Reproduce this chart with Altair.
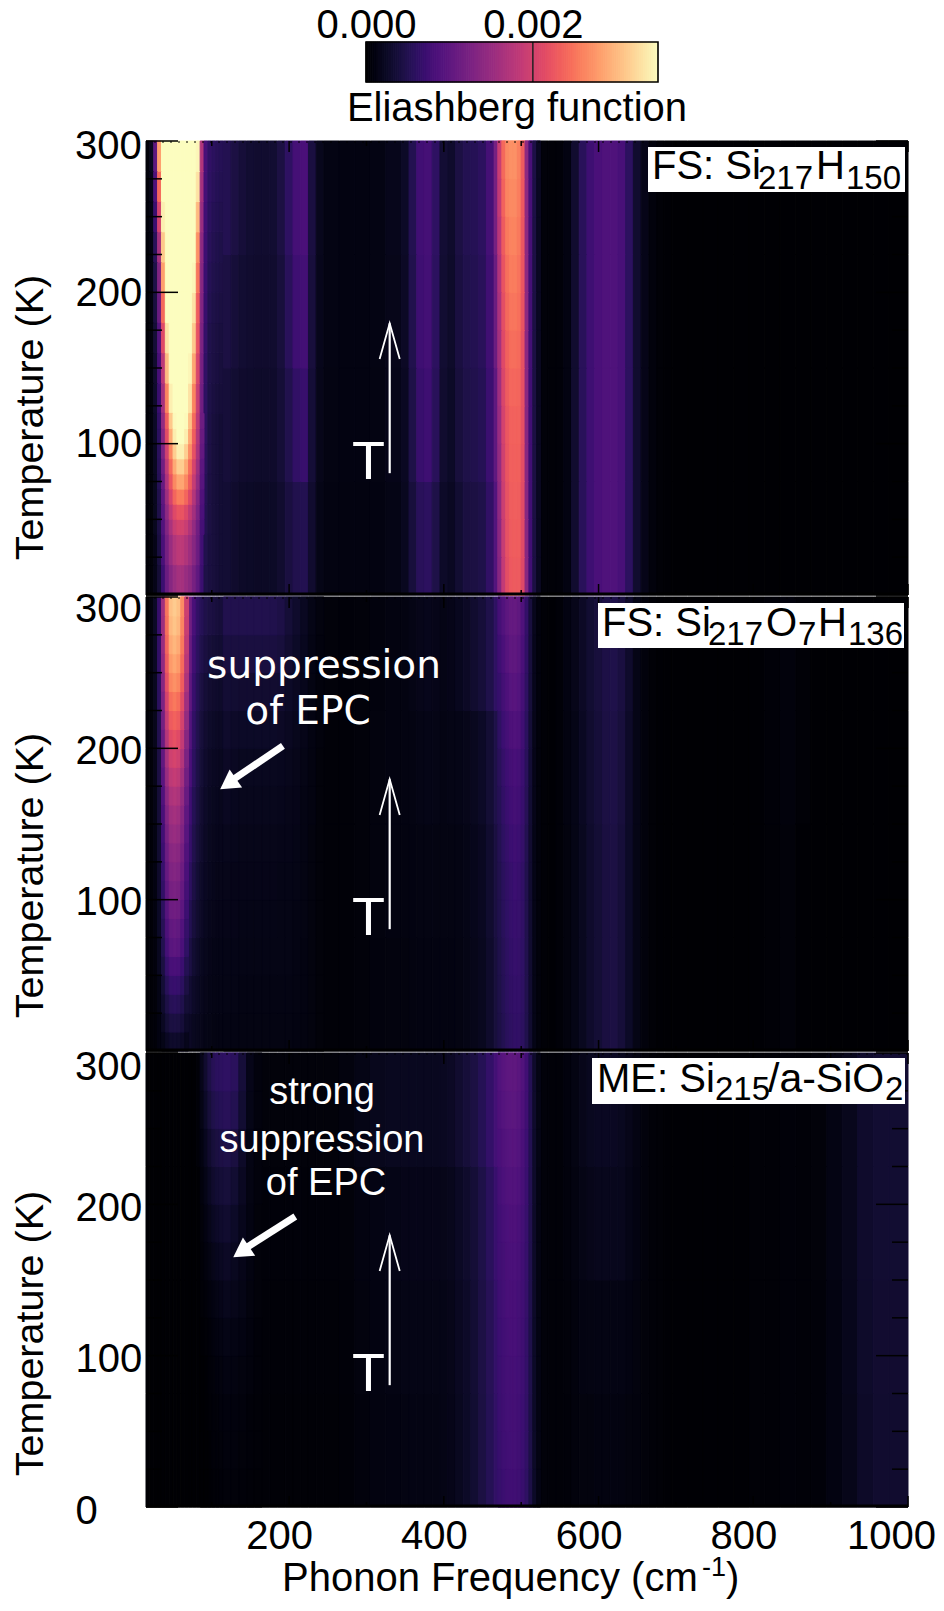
import altair as alt
import pandas as pd

# ---------- frequency / temperature cell edges ----------
low_f = [15,20,25,30,35,40,45,50,55,60,65,70,75,80,85,90,95,100,105,110,115]
hi_f = [115,125,135,145,155,165,175,185,195,205,215,225,235,245,
        265,285,305,325,345,
        355,365,375,385,395,405,415,425,435,445,455,465,
        470,475,480,485,490,495,500,505,510,515,520,525,
        535,545,555,565,575,585,595,605,615,625,635,645,655,665,675,685,695,
        715,735,755,775,795,815,835,855,875,895,915,935,955,975,1000]
hi_T = [0,75,150,225,300]
fine_T = [0,25,50,75,100,125,150,175,200,225,250,275,300]
peak_f = [470,475,480,485,490,495,500,505,510,515,520,525]

# ---------- panel 1: Si217H150 (values in units of 1e-3) ----------
p1_low_T = [0,20,40,60,80,100,120,140,160,180,200,220,240,260,280,300]
p1_low = [
 [.03,.05,.15,.35,.7,1.1,1.35,1.5,1.6,1.6,1.5,1.4,1.2,1.0,.7,.45,.4,.38,.36,.33],
 [.03,.05,.15,.4,.8,1.2,1.5,1.7,1.8,1.8,1.7,1.55,1.35,1.1,.75,.48,.4,.38,.36,.33],
 [.03,.05,.2,.45,.9,1.35,1.7,1.95,2.05,2.05,1.95,1.75,1.5,1.2,.8,.5,.42,.38,.36,.33],
 [.03,.06,.2,.5,1.0,1.6,2.1,2.5,2.7,2.7,2.5,2.2,1.8,1.4,.9,.52,.42,.38,.36,.33],
 [.03,.06,.22,.55,1.2,1.9,2.5,3.0,3.3,3.3,3.0,2.55,2.1,1.6,1.0,.55,.43,.38,.36,.33],
 [.03,.07,.25,.6,1.4,2.2,3.0,3.45,3.5,3.5,3.45,2.95,2.35,1.75,1.1,.58,.44,.38,.36,.33],
 [.03,.07,.28,.7,1.6,2.6,3.4,3.5,3.5,3.5,3.5,3.3,2.6,1.9,1.15,.6,.45,.4,.38,.36],
 [.03,.07,.3,.8,1.8,3.0,3.5,3.5,3.5,3.5,3.5,3.45,2.85,2.05,1.2,.62,.46,.42,.4,.38],
 [.03,.08,.35,.9,2.1,3.3,3.5,3.5,3.5,3.5,3.5,3.5,3.1,2.2,1.25,.65,.47,.43,.41,.39],
 [.03,.08,.4,1.1,2.4,3.5,3.5,3.5,3.5,3.5,3.5,3.5,3.3,2.3,1.3,.68,.5,.45,.43,.41],
 [.03,.09,.45,1.3,2.8,3.5,3.5,3.5,3.5,3.5,3.5,3.5,3.45,2.5,1.35,.7,.52,.47,.45,.43],
 [.04,.1,.55,1.6,3.1,3.5,3.5,3.5,3.5,3.5,3.5,3.5,3.5,2.7,1.4,.72,.55,.5,.47,.45],
 [.05,.12,.7,2.0,3.4,3.5,3.5,3.5,3.5,3.5,3.5,3.5,3.5,3.0,1.5,.75,.58,.52,.5,.48],
 [.05,.15,.85,2.4,3.5,3.5,3.5,3.5,3.5,3.5,3.5,3.5,3.5,3.3,1.6,.78,.6,.55,.52,.5],
 [.05,.2,1.0,2.8,3.5,3.5,3.5,3.5,3.5,3.5,3.5,3.5,3.5,3.45,1.7,.8,.62,.57,.54,.52],
]
p1_tip_f = [30,35,40,45,50,55,60,65,70,75,80,85,90]
p1_tip_T = [40,50,60,70,80,90,100,110,120]
p1_tip = [
 [.44,.88,1.3,1.65,1.9,2.0,2.0,1.9,1.7,1.45,1.15,.78],
 [.46,.93,1.42,1.82,2.1,2.22,2.22,2.08,1.85,1.58,1.25,.83],
 [.48,.98,1.55,2.02,2.38,2.55,2.55,2.38,2.1,1.72,1.34,.87],
 [.52,1.05,1.68,2.22,2.64,2.85,2.85,2.64,2.3,1.88,1.46,.93],
 [.54,1.15,1.82,2.4,2.88,3.15,3.15,2.88,2.46,2.02,1.54,.97],
 [.56,1.25,1.98,2.62,3.15,3.4,3.4,3.15,2.68,2.18,1.66,1.03],
 [.58,1.35,2.14,2.88,3.38,3.5,3.5,3.38,2.88,2.3,1.72,1.08],
 [.62,1.45,2.3,3.1,3.47,3.5,3.5,3.47,3.05,2.42,1.8,1.12],
]
p1_hi = [
 [.33,.29,.26,.25,.24,.24,.25,.3,.4,.48,.5,.3,.14, .1,.09,.09,.1,.13,
  .2,.38,.55,.58,.45,.26,.22,.32,.4,.42,.46,.62,
  .9,1.4,1.9,2.2,2.3,2.3,2.3,2.2,1.6,.9,.6,.4,
  .05,.03,.04,.1,.3,.55,.72,.82,.86,.86,.8,.58,.3,.15,.06,.02,.01,
  0,0,0,0,0,0,0,0,0,0,0,0,0,0,0],
 [.36,.32,.29,.28,.27,.27,.28,.35,.48,.62,.68,.35,.16, .11,.1,.1,.11,.15,
  .22,.45,.68,.72,.55,.3,.25,.38,.45,.48,.52,.7,
  1.0,1.5,2.0,2.25,2.35,2.35,2.35,2.25,1.6,.9,.6,.4,
  .05,.03,.04,.1,.3,.55,.72,.82,.86,.86,.8,.58,.3,.15,.06,.02,.01,
  0,0,0,0,0,0,0,0,0,0,0,0,0,0,0],
 [.42,.36,.32,.3,.29,.29,.3,.38,.55,.72,.76,.38,.17, .12,.1,.1,.12,.16,
  .24,.48,.72,.76,.58,.32,.27,.4,.47,.5,.55,.74,
  1.1,1.65,2.15,2.4,2.5,2.5,2.45,2.3,1.65,.92,.6,.4,
  .05,.03,.04,.1,.3,.55,.72,.82,.86,.86,.8,.58,.3,.15,.06,.02,.01,
  0,0,0,0,0,0,0,0,0,0,0,0,0,0,0],
 [.5,.42,.36,.32,.3,.3,.32,.42,.6,.78,.82,.4,.18, .12,.1,.1,.12,.17,
  .25,.5,.75,.78,.6,.33,.28,.42,.5,.52,.58,.78,
  1.2,1.85,2.35,2.6,2.65,2.65,2.55,2.35,1.65,.95,.62,.4,
  .05,.03,.04,.1,.3,.55,.72,.82,.86,.86,.8,.58,.3,.15,.06,.02,.01,
  0,0,0,0,0,0,0,0,0,0,0,0,0,0,0],
]
p1_peak = [
 [1.35,1.85,2.15,2.27,2.28,2.28,2.1,1.35,.75,.42,.22],
 [1.38,1.88,2.18,2.29,2.3,2.3,2.12,1.35,.75,.42,.22],
 [1.42,1.92,2.2,2.31,2.32,2.31,2.13,1.35,.75,.42,.22],
 [1.46,1.96,2.23,2.33,2.33,2.33,2.15,1.35,.75,.42,.22],
 [1.5,2.0,2.25,2.35,2.35,2.35,2.17,1.35,.75,.42,.22],
 [1.55,2.05,2.29,2.39,2.39,2.37,2.18,1.37,.75,.42,.22],
 [1.6,2.1,2.34,2.44,2.44,2.41,2.2,1.38,.76,.42,.22],
 [1.65,2.15,2.4,2.5,2.5,2.45,2.22,1.4,.77,.42,.22],
 [1.71,2.21,2.46,2.55,2.55,2.48,2.24,1.4,.78,.43,.22],
 [1.78,2.28,2.53,2.6,2.6,2.52,2.25,1.4,.79,.43,.22],
 [1.85,2.35,2.6,2.65,2.65,2.55,2.27,1.4,.8,.44,.22],
 [1.9,2.4,2.65,2.7,2.7,2.58,2.29,1.4,.81,.44,.22],
]

# ---------- panel 2: Si217O7H136 ----------
p2_low_T = [0,25,50,75,100,125,150,175,200,225,250,275,300]
p2_low = [
 [.01,.02,.04,.1,.2,.3,.34,.35,.34,.32,.28,.24,.2,.18,.16,.14,.13,.12,.12,.12],
 [.01,.02,.05,.13,.3,.48,.58,.6,.58,.52,.42,.32,.26,.22,.18,.16,.14,.13,.13,.13],
 [.01,.03,.07,.2,.45,.72,.87,.9,.87,.76,.58,.42,.32,.26,.2,.18,.15,.14,.14,.14],
 [.01,.03,.09,.25,.55,.88,1.07,1.1,1.07,.93,.7,.5,.38,.3,.24,.2,.17,.16,.15,.15],
 [.01,.04,.1,.28,.64,1.02,1.24,1.28,1.24,1.08,.8,.58,.43,.33,.26,.22,.19,.17,.16,.16],
 [.01,.04,.12,.32,.72,1.16,1.4,1.45,1.4,1.22,.9,.65,.48,.37,.29,.24,.2,.18,.17,.17],
 [.02,.05,.13,.36,.82,1.32,1.6,1.65,1.6,1.38,1.02,.72,.52,.4,.31,.26,.22,.2,.19,.18],
 [.02,.05,.16,.43,.98,1.56,1.9,1.95,1.88,1.62,1.18,.82,.58,.44,.34,.28,.24,.22,.21,.2],
 [.02,.06,.18,.5,1.12,1.8,2.18,2.25,2.16,1.85,1.32,.9,.62,.48,.37,.31,.27,.25,.24,.23],
 [.02,.07,.2,.58,1.3,2.08,2.52,2.6,2.5,2.12,1.5,1.0,.68,.52,.41,.35,.31,.29,.28,.27],
 [.02,.08,.23,.64,1.45,2.32,2.82,2.9,2.78,2.35,1.65,1.08,.74,.57,.46,.4,.36,.34,.33,.32],
 [.02,.08,.25,.68,1.55,2.48,3.0,3.1,2.98,2.5,1.75,1.15,.8,.62,.52,.46,.42,.4,.38,.36],
]
p2_left_f = [35,40,45,50,55,60,65,70]
p2_left_T = [0,12.5,25,37.5,50,62.5,75,87.5,100,112.5,125,137.5,150,162.5,175,187.5,
             200,212.5,225,237.5,250,262.5,275,287.5,300]
p2_left = [
 [.14,.22,.27,.28,.27,.24,.17],[.21,.34,.41,.42,.41,.36,.26],[.28,.44,.53,.55,.53,.47,.34],
 [.34,.54,.66,.68,.66,.58,.42],[.41,.66,.8,.82,.8,.7,.51],[.49,.78,.95,.98,.95,.83,.61],
 [.53,.84,1.02,1.05,1.02,.89,.65],[.58,.92,1.12,1.15,1.12,.98,.71],[.62,.99,1.2,1.24,1.2,1.05,.77],
 [.66,1.06,1.28,1.32,1.28,1.12,.82],[.7,1.12,1.36,1.4,1.36,1.19,.87],[.75,1.2,1.46,1.5,1.46,1.28,.93],
 [.8,1.28,1.55,1.6,1.55,1.36,.99],[.86,1.38,1.67,1.72,1.67,1.46,1.07],[.94,1.5,1.81,1.87,1.81,1.59,1.16],
 [1.01,1.62,1.96,2.02,1.96,1.72,1.25],[1.09,1.74,2.11,2.18,2.11,1.85,1.35],[1.18,1.88,2.28,2.35,2.28,2.0,1.46],
 [1.26,2.02,2.44,2.52,2.44,2.14,1.56],[1.35,2.16,2.62,2.7,2.62,2.3,1.67],[1.43,2.28,2.76,2.85,2.76,2.42,1.77],
 [1.49,2.38,2.88,2.97,2.88,2.52,1.84],[1.54,2.46,2.98,3.07,2.98,2.61,1.9],[1.57,2.5,3.04,3.13,3.04,2.66,1.94],
]
p2_hi = [
 [.13,.13,.12,.12,.12,.12,.12,.12,.12,.11,.1,.08,.05, .03,.03,.05,.07,.08,
  .08,.09,.1,.1,.1,.1,.1,.11,.13,.16,.2,.28,
  .38,.45,.52,.58,.62,.64,.64,.6,.48,.3,.14,.06,
  .02,.01,.03,.08,.13,.2,.28,.34,.4,.42,.36,.25,.13,.06,.02,.01,0,
  0,0,0,0,0,.01,.02,.05,.01,0,0,0,0,0,0],
 [.16,.15,.15,.15,.15,.15,.15,.14,.14,.13,.11,.08,.05, .03,.03,.05,.08,.09,
  .09,.1,.11,.11,.11,.11,.11,.12,.14,.17,.21,.3,
  .4,.48,.56,.62,.67,.7,.68,.62,.48,.3,.14,.06,
  .02,.01,.03,.08,.13,.2,.28,.34,.4,.42,.36,.25,.13,.06,.02,.01,0,
  0,0,0,0,0,.01,.02,.05,.01,0,0,0,0,0,0],
 [.24,.22,.2,.2,.2,.2,.2,.19,.18,.16,.13,.09,.05, .03,.03,.05,.08,.09,
  .1,.11,.13,.14,.13,.12,.13,.14,.16,.2,.25,.34,
  .45,.55,.65,.72,.78,.8,.78,.7,.55,.33,.15,.06,
  .02,.01,.03,.09,.14,.22,.3,.36,.42,.44,.38,.26,.14,.06,.02,.01,0,
  0,0,0,0,0,.01,.03,.06,.02,0,0,0,0,0,0],
 [.42,.42,.42,.42,.42,.42,.42,.4,.32,.26,.2,.12,.07, .05,.04,.05,.07,.09,
  .1,.13,.16,.17,.15,.13,.15,.19,.24,.3,.36,.46,
  .6,.72,.82,.92,1.0,1.0,.95,.82,.62,.38,.17,.07,
  .02,.01,.03,.1,.16,.24,.32,.38,.44,.46,.4,.28,.14,.06,.02,.01,0,
  0,0,0,0,0,.01,.03,.06,.02,0,0,0,0,0,0],
]
p2_haze_f = [115,125,135,145,155,165,175,185,195,205,215,225,235,245]
p2_haze = [
 [.12,.12,.11,.11,.11,.11,.11,.11,.11,.1,.09,.08,.05],
 [.13,.13,.12,.12,.12,.12,.12,.12,.12,.11,.1,.08,.05],
 [.14,.14,.13,.13,.13,.13,.13,.13,.13,.12,.1,.08,.05],
 [.15,.15,.14,.14,.14,.14,.14,.13,.13,.12,.11,.08,.05],
 [.16,.15,.15,.15,.15,.15,.15,.14,.14,.13,.11,.08,.05],
 [.18,.17,.16,.16,.16,.16,.16,.15,.15,.14,.12,.08,.05],
 [.21,.19,.18,.18,.18,.18,.18,.17,.16,.15,.12,.09,.05],
 [.24,.22,.2,.2,.2,.2,.2,.19,.18,.16,.13,.09,.05],
 [.28,.26,.25,.25,.25,.25,.25,.24,.21,.18,.15,.1,.06],
 [.33,.32,.31,.31,.31,.31,.31,.3,.25,.21,.17,.11,.06],
 [.4,.4,.4,.4,.4,.4,.4,.38,.31,.25,.19,.12,.07],
 [.48,.48,.48,.48,.48,.48,.47,.44,.35,.28,.21,.13,.08],
]
p2_peak = [
 [.44,.5,.56,.6,.62,.62,.58,.47,.3,.14,.06],
 [.45,.52,.58,.62,.64,.64,.6,.48,.3,.14,.06],
 [.46,.53,.59,.64,.66,.65,.61,.48,.3,.14,.06],
 [.47,.55,.61,.66,.68,.67,.62,.48,.3,.14,.06],
 [.48,.56,.62,.67,.7,.68,.62,.48,.3,.14,.06],
 [.5,.59,.65,.71,.73,.71,.65,.5,.31,.14,.06],
 [.52,.62,.69,.75,.77,.75,.68,.53,.32,.15,.06],
 [.55,.65,.72,.78,.8,.78,.7,.55,.33,.15,.06],
 [.6,.71,.78,.85,.87,.84,.74,.57,.35,.16,.06],
 [.66,.77,.85,.93,.94,.9,.78,.6,.37,.17,.07],
 [.72,.82,.92,1.0,1.0,.95,.82,.62,.38,.17,.07],
 [.78,.88,.98,1.05,1.05,1.0,.86,.64,.39,.18,.07],
]

# ---------- panel 3: Si215/a-SiO2 ----------
p3_low_T = [0,75,150,225,300]
p3_low = [
 [0,0,0,0,0,0,0,0,0,0,0,0,0,0,0,0,.01,.03,.04,.05],
 [0,0,0,0,0,0,0,0,0,0,0,0,0,0,0,.01,.03,.06,.09,.1],
 [0,0,0,0,0,0,0,0,0,0,0,0,0,0,.03,.08,.14,.2,.23,.25],
 [0,0,0,0,0,0,0,0,0,0,0,0,0,.03,.08,.2,.32,.42,.46,.48],
]
p3_hi = [
 [.06,.06,.05,.04,.03,.02,.02,.02,.02,.02,.02,.02,.02, .02,.03,.06,.09,.1,
  .11,.12,.12,.12,.12,.13,.15,.2,.25,.32,.42,.52,
  .62,.68,.72,.75,.76,.76,.74,.7,.62,.45,.25,.12,
  .05,.03,.03,.04,.06,.08,.08,.09,.09,.09,.09,.08,.07,.05,.03,.02,.01,
  .01,.01,.01,.01,.01,.02,.02,.04,.03,.04,.1,.16,.26,.3,.3],
 [.12,.11,.09,.07,.04,.03,.03,.03,.03,.03,.03,.03,.03, .03,.04,.08,.1,.12,
  .13,.13,.13,.13,.13,.14,.16,.21,.26,.33,.43,.53,
  .64,.7,.74,.77,.78,.78,.76,.72,.64,.46,.25,.12,
  .05,.03,.03,.05,.07,.1,.11,.12,.12,.12,.12,.1,.08,.05,.03,.02,.01,
  .01,.01,.01,.01,.01,.02,.02,.04,.03,.04,.1,.17,.27,.31,.31],
 [.27,.22,.15,.08,.05,.04,.04,.04,.04,.04,.04,.04,.04, .04,.05,.09,.12,.14,
  .15,.15,.15,.15,.15,.16,.18,.23,.28,.35,.45,.56,
  .68,.74,.78,.82,.84,.84,.8,.75,.66,.47,.26,.12,
  .05,.03,.03,.06,.09,.13,.16,.18,.18,.18,.18,.14,.1,.06,.03,.02,.01,
  .01,.01,.01,.01,.01,.02,.02,.04,.03,.05,.12,.18,.28,.32,.32],
 [.52,.5,.32,.14,.07,.05,.05,.05,.05,.05,.05,.05,.05, .05,.08,.13,.18,.2,
  .2,.2,.2,.2,.2,.21,.24,.3,.36,.42,.52,.64,
  .76,.84,.9,.94,.96,.96,.92,.84,.72,.5,.28,.13,
  .05,.03,.03,.07,.11,.16,.2,.22,.22,.22,.2,.16,.11,.06,.03,.02,.01,
  .01,.01,.01,.01,.01,.02,.02,.04,.03,.05,.12,.18,.28,.32,.32],
]
p3_haze_f = [85,90,95,100,105,110,115,125,135,145,155,165]
p3_haze = [
 [0,0,.01,.02,.03,.04,.05,.05,.04,.03,.02],
 [0,0,.01,.03,.04,.05,.06,.06,.05,.04,.03],
 [0,.01,.02,.04,.05,.06,.07,.07,.06,.04,.03],
 [0,.01,.03,.05,.07,.08,.1,.09,.08,.06,.04],
 [.01,.02,.04,.07,.09,.11,.13,.12,.1,.07,.04],
 [.02,.04,.07,.1,.13,.15,.18,.16,.13,.08,.05],
 [.03,.07,.11,.16,.19,.21,.24,.2,.15,.09,.05],
 [.05,.1,.16,.22,.26,.28,.3,.25,.17,.1,.05],
 [.07,.14,.22,.29,.33,.35,.37,.32,.21,.11,.06],
 [.1,.19,.29,.37,.41,.43,.45,.4,.26,.12,.06],
 [.13,.25,.37,.46,.5,.52,.54,.5,.32,.14,.07],
 [.16,.3,.44,.53,.57,.58,.6,.56,.36,.15,.07],
]
p3_peak = [
 [.66,.7,.73,.74,.74,.72,.68,.6,.44,.25,.12],
 [.68,.72,.75,.76,.76,.74,.7,.62,.45,.25,.12],
 [.69,.73,.76,.77,.77,.75,.71,.63,.45,.25,.12],
 [.7,.74,.77,.78,.78,.76,.72,.64,.46,.25,.12],
 [.71,.75,.78,.8,.8,.77,.73,.64,.46,.25,.12],
 [.72,.76,.8,.81,.81,.78,.74,.65,.47,.26,.12],
 [.74,.77,.81,.83,.83,.8,.75,.66,.47,.26,.12],
 [.75,.79,.83,.85,.85,.82,.76,.67,.48,.26,.12],
 [.78,.83,.87,.89,.89,.86,.79,.69,.49,.27,.12],
 [.82,.87,.91,.93,.93,.9,.82,.71,.5,.27,.13],
 [.85,.91,.95,.97,.97,.93,.85,.73,.51,.28,.13],
 [.88,.94,.98,1.0,1.0,.96,.88,.74,.52,.28,.13],
]

# ---------- axis, annotation values ----------
T_major = [0,100,200,300]
T_minor = [25,50,75,125,150,175,225,250,275]
f_major = [200,400,600,800,1000]
f_minor = [100,300,500,700,900]
f_labels = [200,400,600,800]
cbar_ticks = [0.0, 2.0]
cbar_max = 3.5
cbar_steps = list(range(0, 141))   # colour-bar ramp, in 1/40 of 1e-3
arrow_line = {"f":[330,330], "T":[80.5,179.5], "i":[0,1]}
arrow_head = {"f":[317,330,343], "T":[156,179.5,156], "i":[0,1,2]}
p2_thick = {"f":[192,125], "T":[201.6,178.5], "i":[0,1], "hf":121, "hT":176.5, "angle":235.5}
p3_thick = {"f":[208,142], "T":[192,170.5], "i":[0,1], "hf":138, "hT":168.5, "angle":236}

W, H = 762, 454
xs = alt.Scale(domain=[15,1000], nice=False, zero=False)
ys = alt.Scale(domain=[0,300], nice=False, zero=False)
cs = alt.Scale(scheme="magma", domain=[0,cbar_max])
SANS = "Liberation Sans"
one = alt.Data(values=[{"a":1}])

def cells(fe, te, rows):
    out = []
    assert len(rows) == len(te)-1, (len(rows), len(te))
    for r, row in enumerate(rows):
        assert len(row) == len(fe)-1, (len(row), len(fe))
        for c, v in enumerate(row):
            out.append({"f0":fe[c],"f1":fe[c+1],"t0":te[r],"t1":te[r+1],"v":v})
    return out

def txt(s, x, y, size, color="black", align="left", font=SANS):
    return alt.Chart(one).mark_text(text=s, fontSize=size, font=font, color=color,
        align=align, baseline="alphabetic").encode(x=alt.value(x), y=alt.value(y))

def box(x0, x1, y0, y1):
    return alt.Chart(one).mark_rect(color="white").encode(
        x=alt.value(x0), x2=alt.value(x1), y=alt.value(y0), y2=alt.value(y1))

def yaxis(vals, offset, title_y):
    return alt.Axis(values=vals, title="Temperature (K)", ticks=False, domain=False, grid=False,
        labelAlign="left", labelPadding=71, labelOffset=offset, labelFontSize=40, labelFont=SANS,
        labelColor="black", labelBaseline="middle", labelBound=False, labelFlush=False, labelOverlap=False,
        titleFontSize=39.5, titleFont=SANS, titleFontWeight="normal", titleColor="black",
        titleX=-116, titleY=title_y, titleBaseline="middle", titleAlign="center", titleAngle=270)

xaxis3 = alt.Axis(values=f_labels, title=None, ticks=False, domain=False, grid=False,
    labelOffset=-10, labelPadding=9, labelFontSize=40, labelFont=SANS, labelColor="black",
    labelBound=False, labelFlush=False, labelOverlap=False, format="d")

def panel(rows, xaxis, ya, extra_fn):
    X = lambda f: alt.X(f, scale=xs, axis=xaxis)
    Y = lambda f: alt.Y(f, scale=ys, axis=ya)
    layers = [alt.Chart(alt.Data(values=rows)).mark_rect(strokeWidth=1).encode(
        x=X("f0:Q"), x2="f1:Q", y=Y("t0:Q"), y2="t1:Q",
        color=alt.Color("v:Q", scale=cs, legend=None),
        stroke=alt.Stroke("v:Q", scale=cs, legend=None))]
    # inward ticks and frame
    for vals, ln in ((f_major,11),(f_minor,5)):
        d = pd.DataFrame({"f":vals})
        layers.append(alt.Chart(d).mark_rule(color="black", strokeWidth=1.5).encode(
            x=X("f:Q"), y=alt.value(0), y2=alt.value(ln)))
        layers.append(alt.Chart(d).mark_rule(color="black", strokeWidth=1.5).encode(
            x=X("f:Q"), y=alt.value(H-ln), y2=alt.value(H)))
    for vals, ln in ((T_major,32),(T_minor,16)):
        d = pd.DataFrame({"T":vals})
        layers.append(alt.Chart(d).mark_rule(color="black", strokeWidth=1.5).encode(
            y=Y("T:Q"), x=alt.value(0), x2=alt.value(ln)))
        layers.append(alt.Chart(d).mark_rule(color="black", strokeWidth=1.5).encode(
            y=Y("T:Q"), x=alt.value(W-ln), x2=alt.value(W)))
    layers.append(alt.Chart(one).mark_rule(color="black", strokeWidth=3).encode(
        x=alt.value(0), x2=alt.value(W), y=alt.value(H-1)))
    layers.append(alt.Chart(one).mark_rule(color="black", strokeWidth=1, strokeDash=[2,6]).encode(
        x=alt.value(0), x2=alt.value(W), y=alt.value(1)))
    # white temperature arrow
    layers.append(alt.Chart(pd.DataFrame(arrow_line)).mark_line(color="white", strokeWidth=2.2).encode(
        x=X("f:Q"), y=Y("T:Q"), order="i:Q"))
    layers.append(alt.Chart(pd.DataFrame(arrow_head)).mark_line(color="white", strokeWidth=1.8).encode(
        x=X("f:Q"), y=Y("T:Q"), order="i:Q"))
    layers.append(txt("T", 206, 338, 54, color="white"))
    layers += extra_fn(X, Y)
    return alt.layer(*layers).properties(width=W, height=H)

def thick(a, X, Y):
    l = alt.Chart(pd.DataFrame({"f":a["f"],"T":a["T"],"i":a["i"]})).mark_line(
        color="white", strokeWidth=7).encode(x=X("f:Q"), y=Y("T:Q"), order="i:Q")
    h = alt.Chart(pd.DataFrame({"f":[a["hf"]],"T":[a["hT"]]})).mark_point(
        shape="triangle-up", filled=True, color="white", opacity=1, size=484, angle=a["angle"]).encode(
        x=X("f:Q"), y=Y("T:Q"))
    return [l, h]

# colour bar (ramp through the same colour scale)
cb_rows = [{"a":i/40,"b":min((i+1)/40, cbar_max)} for i in cbar_steps[:-1]]
cbs = alt.Scale(domain=[0,cbar_max], range=[220,512], nice=False, zero=False)
cba = alt.Axis(orient="top", values=cbar_ticks, title=None, ticks=False, domain=False, grid=False,
               labelExpr="format(datum.value/1000,'.3f')", labelFontSize=40, labelFont=SANS,
               labelColor="black", labelPadding=5, labelBaseline="alphabetic",
               labelOverlap=False, labelBound=False, labelFlush=False)
cb_ramp = alt.Chart(alt.Data(values=cb_rows)).mark_rect(strokeWidth=1).encode(
    x=alt.X("a:Q", scale=cbs, axis=cba), x2="b:Q", y=alt.value(0), y2=alt.value(40),
    color=alt.Color("a:Q", scale=cs, legend=None),
    stroke=alt.Stroke("a:Q", scale=cs, legend=None))
cb_tick = alt.Chart(alt.Data(values=[{"x":2.0}])).mark_rule(color="#222222", strokeWidth=1.5).encode(
    x=alt.X("x:Q", scale=cbs, axis=cba), y=alt.value(0), y2=alt.value(40))
cb_border = alt.Chart(alt.Data(values=[{"x":0,"x2":cbar_max}])).mark_rect(
    filled=False, stroke="black", strokeWidth=1.6).encode(
    x=alt.X("x:Q", scale=cbs, axis=cba), x2="x2:Q", y=alt.value(0), y2=alt.value(40))
cb_title = txt("Eliashberg function", 371, 79, 40, align="center")
colorbar = alt.layer(cb_ramp, cb_tick, cb_border, cb_title).properties(width=W, height=97)

p1_rows = (cells(low_f, p1_low_T, p1_low) + cells(hi_f, hi_T, p1_hi)
           + cells(p1_tip_f, p1_tip_T, p1_tip) + cells(peak_f, fine_T, p1_peak))
p2_rows = (cells(low_f, p2_low_T, p2_low) + cells(hi_f, hi_T, p2_hi)
           + cells(p2_left_f, p2_left_T, p2_left) + cells(p2_haze_f, fine_T, p2_haze)
           + cells(peak_f, fine_T, p2_peak))
p3_rows = (cells(low_f, p3_low_T, p3_low) + cells(hi_f, hi_T, p3_hi)
           + cells(p3_haze_f, fine_T, p3_haze) + cells(peak_f, fine_T, p3_peak))

p1 = panel(p1_rows, None, yaxis([100,200], 1, 276),
    lambda X, Y: [
    box(502, 759, 6, 51),
    txt("FS: Si", 506, 38, 40), txt("217", 612, 48, 33), txt("H", 670, 38, 40), txt("150", 700, 48, 33),
    txt("300", -71, 18, 40),
])
p2 = panel(p2_rows, None, yaxis([100,200], 3, 278),
    lambda X, Y: [
    *thick(p2_thick, X, Y),
    txt("suppression", 178, 81, 39, color="white", align="center", font="DejaVu Sans"),
    txt("of EPC", 162, 127, 39, color="white", align="center", font="DejaVu Sans"),
    box(452, 758, 6, 51),
    txt("FS: Si", 456, 39, 40), txt("217", 562, 48, 33), txt("O", 620, 39, 40), txt("7", 652, 48, 33),
    txt("H", 672, 39, 40), txt("136", 702, 48, 33),
    txt("300", -71, 25, 40),
])
p3 = panel(p3_rows, xaxis3, yaxis([0,100,200], 4, 280),
    lambda X, Y: [
    *thick(p3_thick, X, Y),
    txt("strong", 176, 51, 38, color="white", align="center"),
    txt("suppression", 176, 99, 38, color="white", align="center"),
    txt("of EPC", 180, 142, 38, color="white", align="center"),
    box(446, 759, 5, 51),
    txt("ME: Si", 451, 39, 40), txt("215", 569, 47, 33), txt("/a-SiO", 622, 39, 41), txt("2", 739, 47, 33),
    txt("300", -71, 27, 40),
    txt("1000", 790, 496, 40, align="right"),
    txt("Phonon Frequency (cm", 136, 538, 40), txt("-1", 556, 523, 27), txt(")", 580, 538, 40),
])

chart = alt.vconcat(colorbar, p1, p2, p3, spacing=2, bounds="flush",
    padding={"left":2,"top":-3,"right":0,"bottom":0}
).configure_view(stroke=None)

chart.save("out.html", embed_options={"renderer": "svg", "actions": False})
